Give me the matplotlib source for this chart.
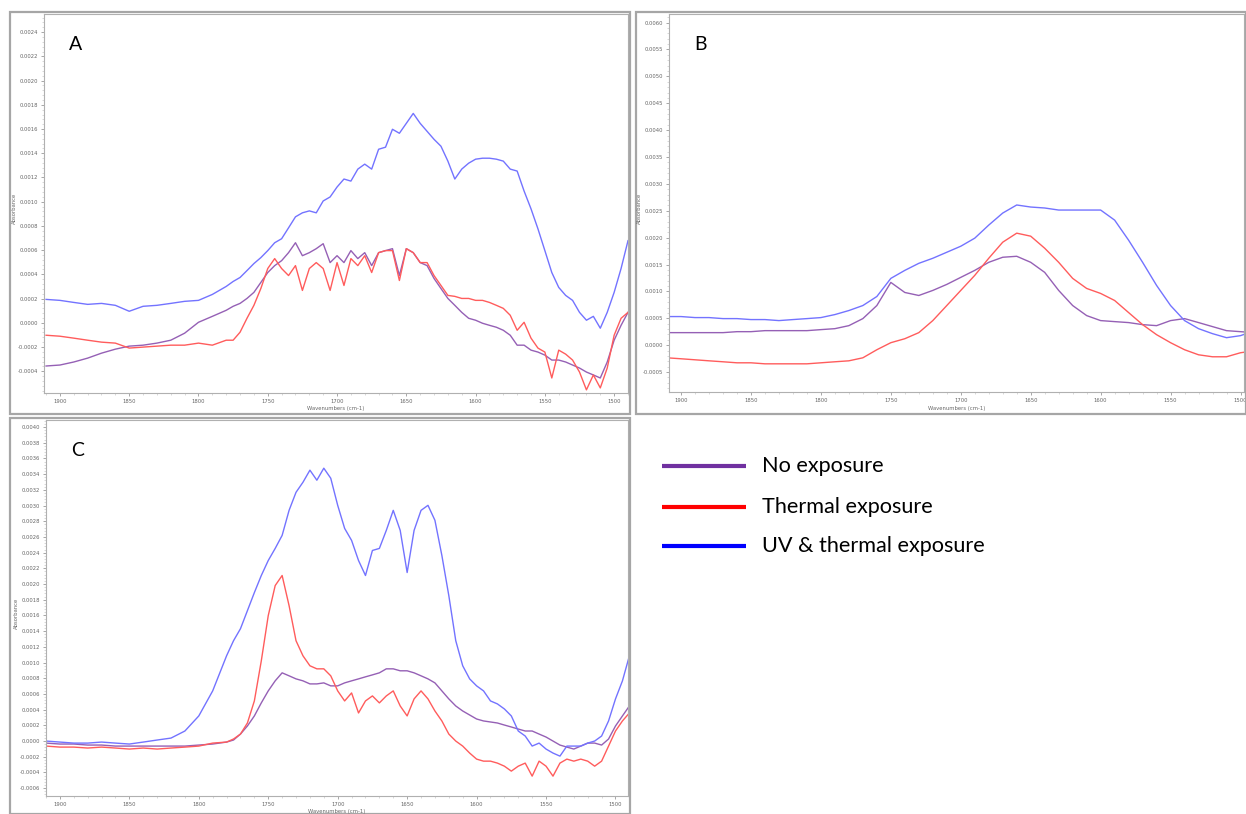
import matplotlib
matplotlib.use("Agg")
import matplotlib.pyplot as plt
from matplotlib.ticker import MultipleLocator, FuncFormatter
from matplotlib.patches import Rectangle
from matplotlib.lines import Line2D

W, H, DPI = 1246, 814, 100
UNIT = 1e-4  # absorbance values below are in units of 1e-4

# Wavenumber grid for panels A and C (finer across the active region)
wn_ac = [1910, 1900, 1890, 1880, 1870, 1860, 1850, 1840, 1830, 1820, 1810,
         1800, 1790,
         1780, 1775, 1770, 1765, 1760, 1755, 1750, 1745, 1740, 1735, 1730,
         1725, 1720, 1715, 1710, 1705, 1700, 1695, 1690, 1685, 1680, 1675,
         1670, 1665, 1660, 1655, 1650, 1645, 1640, 1635, 1630, 1625, 1620,
         1615, 1610, 1605, 1600, 1595, 1590, 1585, 1580, 1575, 1570, 1565,
         1560, 1555, 1550, 1545, 1540, 1535, 1530, 1525, 1520, 1515, 1510,
         1505, 1500, 1495, 1490]

# ---------------- Panel A ----------------
a_none = [-3.57, -3.49, -3.24, -2.92, -2.51, -2.18, -1.93, -1.85, -1.68,
          -1.44, -0.86, 0.04, 0.53,
          1.03, 1.36, 1.60, 2.01, 2.51, 3.33, 4.15, 4.72, 5.13, 5.79, 6.61,
          5.54, 5.79, 6.12, 6.53, 4.97, 5.54, 4.97, 5.96, 5.30, 5.79, 4.72,
          5.79, 5.96, 6.12, 3.90, 6.12, 5.79, 4.97, 4.72, 3.66, 2.83, 2.01,
          1.44, 0.86, 0.37, 0.21, -0.04, -0.21, -0.37, -0.62, -1.03, -1.85,
          -1.85, -2.26, -2.42, -2.67, -3.08, -3.08, -3.24, -3.49, -3.74,
          -4.07, -4.31, -4.56, -3.24, -1.44, -0.21, 0.86]
a_thermal = [-1.03, -1.11, -1.27, -1.44, -1.60, -1.68, -2.09, -2.01, -1.93,
             -1.85, -1.85, -1.68, -1.85,
             -1.44, -1.44, -0.78, 0.37, 1.44, 2.83, 4.48, 5.30, 4.48, 3.90,
             4.72, 2.67, 4.48, 4.97, 4.48, 2.67, 4.97, 3.08, 5.30, 4.72, 5.54,
             4.15, 5.79, 5.96, 5.96, 3.49, 6.12, 5.79, 4.97, 4.97, 3.90, 3.08,
             2.26, 2.18, 2.01, 2.01, 1.85, 1.85, 1.68, 1.44, 1.19, 0.62,
             -0.62, 0.04, -1.27, -2.09, -2.42, -4.56, -2.26, -2.59, -3.08,
             -4.07, -5.54, -4.31, -5.38, -3.74, -1.03, 0.37, 0.86]
a_uv = [1.93, 1.85, 1.68, 1.52, 1.60, 1.44, 0.95, 1.36, 1.44, 1.60, 1.77,
        1.85, 2.34,
        3.00, 3.41, 3.74, 4.31, 4.89, 5.38, 5.96, 6.61, 6.94, 7.84, 8.75,
        9.08, 9.24, 9.08, 10.06, 10.39, 11.21, 11.87, 11.70, 12.69, 13.10,
        12.69, 14.33, 14.50, 15.98, 15.65, 16.47, 17.29, 16.47, 15.81, 15.15,
        14.58, 13.35, 11.87, 12.69, 13.18, 13.51, 13.59, 13.59, 13.51, 13.35,
        12.69, 12.53, 10.88, 9.41, 7.76, 5.96, 4.15, 2.92, 2.26, 1.85, 0.86,
        0.21, 0.53, -0.45, 0.86, 2.51, 4.48, 6.78]

# ---------------- Panel B ----------------
wn_b = [1910, 1900, 1890, 1880, 1870, 1860, 1850, 1840, 1830, 1820, 1810,
        1800, 1790, 1780, 1770, 1760, 1750, 1740, 1730, 1720, 1710, 1700,
        1690, 1680, 1670, 1660, 1650, 1640, 1630, 1620, 1610, 1600, 1590,
        1580, 1570, 1560, 1550, 1540, 1530, 1520, 1510, 1500, 1490]
b_none = [2.34, 2.34, 2.34, 2.34, 2.34, 2.52, 2.52, 2.71, 2.71, 2.71, 2.71,
          2.90, 3.08, 3.64, 4.95, 7.38, 11.68, 9.81, 9.25, 10.19, 11.31,
          12.62, 13.92, 15.42, 16.36, 16.54, 15.42, 13.55, 10.19, 7.38, 5.51,
          4.58, 4.39, 4.21, 3.83, 3.64, 4.58, 4.95, 4.21, 3.46, 2.71, 2.52,
          2.34]
b_thermal = [-2.34, -2.52, -2.71, -2.90, -3.08, -3.27, -3.27, -3.46, -3.46,
             -3.46, -3.46, -3.27, -3.08, -2.90, -2.34, -0.84, 0.47, 1.21, 2.34,
             4.58, 7.38, 10.19, 12.99, 16.17, 19.16, 20.84, 20.28, 18.04,
             15.42, 12.43, 10.56, 9.63, 8.32, 6.07, 3.83, 1.96, 0.47, -0.84,
             -1.78, -2.15, -2.15, -1.40, -1.03]
b_uv = [5.33, 5.33, 5.14, 5.14, 4.95, 4.95, 4.77, 4.77, 4.58, 4.77, 4.95,
        5.14, 5.70, 6.45, 7.38, 9.06, 12.43, 13.92, 15.23, 16.17, 17.29,
        18.41, 19.91, 22.34, 24.58, 26.08, 25.70, 25.52, 25.14, 25.14, 25.14,
        25.14, 23.27, 19.53, 15.42, 11.12, 7.38, 4.58, 3.08, 2.15, 1.40, 1.78,
        2.71]

# ---------------- Panel C ----------------
c_none = [-0.26, -0.38, -0.38, -0.51, -0.51, -0.64, -0.64, -0.64, -0.64,
          -0.64, -0.64, -0.51, -0.38,
          -0.13, 0.13, 0.89, 1.92, 3.20, 4.86, 6.39, 7.67, 8.69, 8.31, 7.92,
          7.67, 7.28, 7.28, 7.41, 7.03, 7.03, 7.41, 7.67, 7.92, 8.18, 8.43,
          8.69, 9.20, 9.20, 8.95, 8.95, 8.69, 8.31, 7.92, 7.41, 6.39, 5.37,
          4.47, 3.83, 3.32, 2.81, 2.56, 2.43, 2.30, 2.04, 1.79, 1.53, 1.28,
          1.28, 0.89, 0.51, 0.00, -0.51, -0.77, -1.02, -0.64, -0.26, -0.26,
          -0.51, 0.26, 1.92, 3.20, 4.47]
c_thermal = [-0.64, -0.77, -0.77, -0.89, -0.77, -0.89, -1.02, -0.89, -1.02,
             -0.89, -0.77, -0.64, -0.26,
             -0.13, 0.26, 0.89, 2.30, 5.11, 10.22, 15.98, 19.81, 21.09, 17.25,
             12.78, 10.86, 9.59, 9.20, 9.20, 8.31, 6.39, 5.11, 6.13, 3.58,
             5.11, 5.75, 4.86, 5.75, 6.39, 4.47, 3.20, 5.37, 6.39, 5.37, 3.83,
             2.56, 0.89, 0.00, -0.64, -1.53, -2.30, -2.56, -2.56, -2.81,
             -3.20, -3.83, -3.20, -2.81, -4.47, -2.56, -3.20, -4.47, -2.81,
             -2.30, -2.56, -2.30, -2.56, -3.20, -2.56, -0.64, 1.28, 2.56,
             3.58]
c_uv = [0.00, -0.13, -0.26, -0.26, -0.13, -0.26, -0.38, -0.13, 0.13, 0.38,
        1.28, 3.20, 6.39,
        10.86, 12.78, 14.31, 16.61, 18.91, 21.09, 23.00, 24.54, 26.20, 29.39,
        31.69, 32.97, 34.51, 33.23, 34.76, 33.48, 30.03, 27.09, 25.56, 23.00,
        21.09, 24.28, 24.54, 26.84, 29.39, 26.84, 21.47, 26.84, 29.39, 30.03,
        28.12, 23.64, 18.53, 12.78, 9.59, 7.92, 7.03, 6.39, 5.11, 4.73, 4.09,
        3.20, 1.28, 0.64, -0.64, -0.26, -1.02, -1.53, -1.92, -0.64, -0.64,
        -0.64, -0.26, 0.00, 0.64, 2.56, 5.37, 7.67, 10.86]

# panel: letter, x data, series, y limits, y step, axes box (px: l, t, r, b)
panels = [
    ("A", wn_ac, (a_none, a_thermal, a_uv), (-5.8, 25.5), 2,
     (44, 14, 628, 393), (1911.5, 1490.0)),
    ("B", wn_b, (b_none, b_thermal, b_uv), (-8.7, 61.6), 5,
     (669, 14, 1244, 392), (1908.6, 1497.5)),
    ("C", wn_ac, (c_none, c_thermal, c_uv), (-7.0, 40.9), 2,
     (46, 420, 628, 796), (1910.0, 1491.0)),
]
frames = [(10, 12, 630, 414), (636, 12, 1246, 414), (10, 418, 630, 814)]

line_colors = ["#9560b5", "#ff5c5c", "#7373ff"]
legend_colors = ["#7030a0", "#ff0000", "#0000ff"]
legend_labels = ["No exposure", "Thermal exposure", "UV & thermal exposure"]

fig = plt.figure(figsize=(W / DPI, H / DPI), dpi=DPI)
fig.patch.set_facecolor("white")


def fx(px):
    return px / W


def fy(py):
    return 1 - py / H


for (l, t, r, b) in frames:
    fig.add_artist(Rectangle((fx(l), fy(b)), fx(r - l), (b - t) / H,
                             transform=fig.transFigure, fill=False,
                             edgecolor="#a6a6a6", linewidth=1.6))

for letter, wn, series, ylim, step, (l, t, r, b), xlim in panels:
    ax = fig.add_axes([fx(l), fy(b), fx(r - l), (b - t) / H])
    for vals, col in zip(series, line_colors):
        ax.plot(wn, [v * UNIT for v in vals], color=col, lw=1.0)
    ax.set_xlim(*xlim)
    ax.set_ylim(ylim[0] * UNIT, ylim[1] * UNIT)
    ax.xaxis.set_major_locator(MultipleLocator(50))
    ax.xaxis.set_minor_locator(MultipleLocator(10))
    ax.yaxis.set_major_locator(MultipleLocator(step * UNIT))
    ax.yaxis.set_minor_locator(MultipleLocator(step * UNIT / 5))
    ax.yaxis.set_major_formatter(FuncFormatter(
        lambda v, p: f"{v:.4f}".replace("-0.0000", "0.0000")))
    ax.xaxis.set_major_formatter(FuncFormatter(lambda v, p: f"{v:.0f}"))
    ax.tick_params(axis="both", which="major", labelsize=3.8,
                   labelcolor="#666666", color="#999999", length=2.5,
                   width=0.6, pad=1.5)
    ax.tick_params(axis="both", which="minor", color="#bbbbbb", length=1.5,
                   width=0.4)
    for s in ax.spines.values():
        s.set_color("#b0b0b0")
        s.set_linewidth(0.8)
    fig.text(fx((l + r) / 2), fy(b + 16), "Wavenumbers (cm-1)", fontsize=3.8,
             color="#666666", ha="center", va="center")
    fig.text(fx(l - 30), fy((t + b) / 2 + 5), "Absorbance", fontsize=3.8,
             color="#666666", rotation=90, ha="center", va="center")
    fig.text(fx(l + 32), fy(t + 31), letter, fontsize=14, family="Lato",
             ha="center", va="center", color="black")

legend_y = [466, 507, 546]
for yy, col, lab in zip(legend_y, legend_colors, legend_labels):
    fig.add_artist(Line2D([fx(662), fx(746)], [fy(yy), fy(yy)],
                          transform=fig.transFigure, color=col, lw=3.0,
                          solid_capstyle="butt"))
    fig.text(fx(762), fy(yy), lab, fontsize=15.6, family="Lato",
             ha="left", va="center", color="black")

fig.savefig("out.png", dpi=DPI, facecolor="white")
